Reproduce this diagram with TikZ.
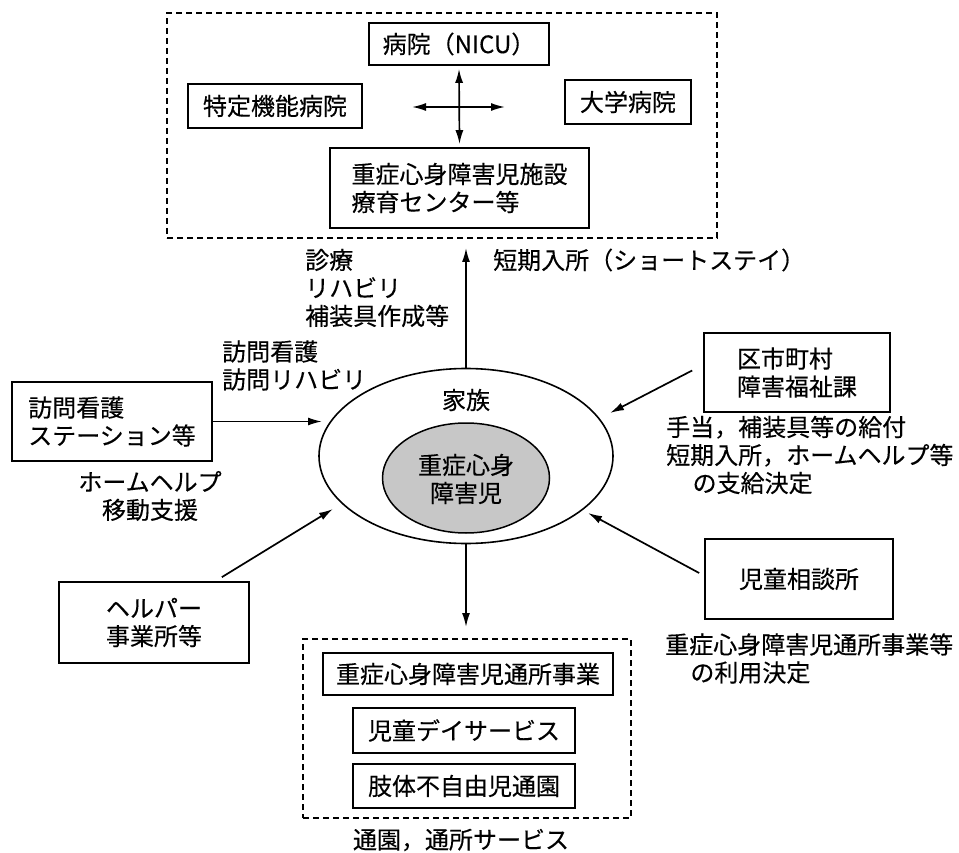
\documentclass[tikz,border=0pt]{standalone}
\usepackage{fontspec}
\newfontfamily\jp[FakeBold=0.3]{Noto Sans CJK JP}
\usetikzlibrary{shapes.geometric,arrows.meta}
\begin{document}
\begin{tikzpicture}[x=1pt,y=-1pt,
  every node/.style={font=\jp\fontsize{24}{28}\selectfont, inner sep=0pt},
  box/.style={draw, line width=1.7pt, align=left, fill=white},
  grp/.style={draw, line width=1.5pt, dash pattern=on 6pt off 4pt},
  lbl/.style={align=left},
  arr/.style={line width=1.7pt, -{Latex[length=14pt,width=8pt]}},
  dbl/.style={line width=1.7pt, {Latex[length=14pt,width=8pt]}-{Latex[length=14pt,width=8pt]}}]
\useasboundingbox (0,0) rectangle (959,853);

% group frames
\node[grp, minimum width=550pt, minimum height=225pt] (topgrp) at (442,125.5) {};
\node[grp, minimum width=328pt, minimum height=179pt] (botgrp) at (467,728.5) {};

% top boxes
\node[box, minimum width=180pt, minimum height=42pt] (hosp) at (459,44) {病院（NICU）};
\node[box, minimum width=174pt, minimum height=44pt] (tokutei) at (275,106) {特定機能病院};
\node[box, minimum width=126pt, minimum height=44pt] (univ) at (628,102) {大学病院};
\node[box, minimum width=259pt, minimum height=80pt] (fac) at (459.5,188) {重症心身障害児施設\\療育センター等};

\coordinate (crossL) at (412,107);
\coordinate (crossR) at (505,107);
\draw[dbl] ([yshift=-3pt]hosp.south) -- ([yshift=3pt]fac.north);
\draw[dbl] (crossL) -- (crossR);

% family ellipses
\node[draw, ellipse, line width=1.6pt, minimum width=294pt, minimum height=175pt] (fam) at (466,456) {};
\node[draw, ellipse, line width=1.5pt, fill=black!22, minimum width=167pt, minimum height=110pt] (child0) at (466,478) {};
\node[lbl] (famlbl) at (466,400) {家族};
\node[align=center] (childlbl) at (466,479) {重症心身\\障害児};

% side boxes
\node[box, minimum width=200pt, minimum height=79pt] (visit) at (112,421.5) {訪問看護\\ステーション等};
\node[box, minimum width=186pt, minimum height=79pt] (ward) at (797,372.5) {区市町村\\障害福祉課};
\node[box, align=center, minimum width=190pt, minimum height=81pt] (helper) at (154,622.5) {ヘルパー\\事業所等};
\node[box, minimum width=188pt, minimum height=80pt] (soudan) at (799,579) {児童相談所};

% bottom boxes
\node[box, minimum width=290pt, minimum height=42pt] (day1) at (468,674) {重症心身障害児通所事業};
\node[box, minimum width=222pt, minimum height=45pt] (day2) at (464,730.5) {児童デイサービス};
\node[box, minimum width=222pt, minimum height=44pt] (day3) at (464,786) {肢体不自由児通園};

% connectors
\coordinate (tipU) at (466,248);
\coordinate (tipD) at (466,627);
\coordinate (tipL) at (322,421.5);
\coordinate (tipLL) at (333,509);
\coordinate (tipR) at (610,413);
\coordinate (tipRL) at (588,513);
\draw[arr] (fam.north) -- (tipU);
\draw[arr] (fam.south) -- (tipD);
\draw[arr] (visit.east) -- (tipL);
\draw[arr] ([xshift=-28pt,yshift=4pt]helper.north east) -- (tipLL);
\draw[arr] ([xshift=-11pt,yshift=2pt]ward.west) -- (tipR);
\draw[arr] ([xshift=-5pt,yshift=6pt]soudan.west) -- (tipRL);

% labels
\node[lbl, anchor=west] (l1) at (305,288) {診療\\リハビリ\\補装具作成等};
\node[lbl, anchor=west] (l2) at (493,260) {短期入所（ショートステイ）};
\node[lbl, anchor=west] (l3) at (222,365.5) {訪問看護\\訪問リハビリ};
\node[align=center] (l4) at (150,496) {ホームヘルプ\\移動支援};
\node[lbl, anchor=west] (l5) at (666,455) {手当，補装具等の給付\\短期入所，ホームヘルプ等\\\hspace{1.1em}の支給決定};
\node[lbl, anchor=west] (l6) at (665,658.5) {重症心身障害児通所事業等\\\hspace{1.05em}の利用決定};
\node (l7) at (461,840) {通園，通所サービス};
\end{tikzpicture}
\end{document}
